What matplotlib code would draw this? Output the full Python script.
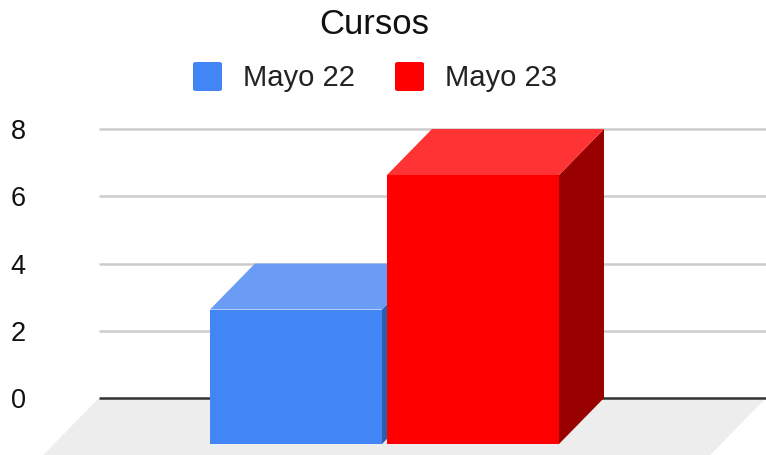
from matplotlib import pyplot as plt
from matplotlib.patches import FancyBboxPatch, Polygon

title = 'Cursos'
series = ['Mayo 22', 'Mayo 23']
values = [4, 8]
yticks = [0, 2, 4, 6, 8]

colors = ['#4285f4', '#ff0000']
top_colors = ['#6a9cf6', '#ff3333']
side_colors = ['#2e5dab', '#990000']

plt.rcParams['font.family'] = ['Liberation Sans', 'DejaVu Sans']

W, H = 766, 455
fig = plt.figure(figsize=(W / 100, H / 100), dpi=100)

# the axes is the back wall of the 3d box: y 0 at pixel 398, y 8 at pixel 129
ax = fig.add_axes([99 / W, 1 - 398 / H, (W - 99) / W, (398 - 129) / H])
px_x = 177.0
px_y = (398 - 129) / 8
ax.set_xlim(-197 / px_x, 470 / px_x)
ax.set_ylim(0, 8)
for s in ax.spines.values():
    s.set_visible(False)
ax.set_xticks([])
ax.set_yticks(yticks)
ax.tick_params(axis='y', length=0, pad=0, labelsize=19.5, labelcolor='#111111')
for lab in ax.get_yticklabels():
    lab.set_horizontalalignment('center')
    lab.set_x(-81 / (W - 99))

# depth of the box in data units
dx = 45 / px_x
dy = 46 / px_y
half = 86 / px_x

x0, x1 = ax.get_xlim()

# floor, runs out past the bottom of the picture
floor_d = 1.5
ax.add_patch(Polygon([(x0, 0), (x1, 0), (x1 - floor_d * dx, -floor_d * dy), (x0 - floor_d * dx, -floor_d * dy)],
                     closed=True, fc='#ededed', ec='none', clip_on=False, zorder=1))

for y in yticks[1:]:
    ax.plot([x0, x1], [y, y], color='#cccccc', lw=1.8, zorder=2, solid_capstyle='butt', clip_on=False)
ax.plot([x0, x1], [0, 0], color='#333333', lw=1.8, zorder=2, solid_capstyle='butt', clip_on=False)

for i, v in enumerate(values):
    l, r = i - half, i + half
    b = -dy
    t = v - dy
    # side
    ax.add_patch(Polygon([(r, b), (r + dx, 0), (r + dx, v), (r, t)], closed=True,
                         fc=side_colors[i], ec='none', clip_on=False, zorder=3 + i))
    # top
    ax.add_patch(Polygon([(l, t), (l + dx, v), (r + dx, v), (r, t)], closed=True,
                         fc=top_colors[i], ec='none', clip_on=False, zorder=3 + i))
    # front
    ax.add_patch(Polygon([(l, b), (r, b), (r, t), (l, t)], closed=True,
                         fc=colors[i], ec='none', clip_on=False, zorder=3 + i))

fig.text(374 / W, 1 - 24 / H, title, ha='center', va='center', fontsize=25, color='#111111')

# legend by hand, the boxes are rounded squares
leg_boxes = [193, 395]
leg_text = [243, 445]
for i, name in enumerate(series):
    fig.add_artist(FancyBboxPatch((leg_boxes[i] / W, 1 - 91 / H), 29 / W, 29 / H,
                                  boxstyle='round,pad=0,rounding_size=0.004',
                                  transform=fig.transFigure, fc=colors[i], ec='none'))
    fig.text(leg_text[i] / W, 1 - 78 / H, name, ha='left', va='center', fontsize=21, color='#222222')

fig.savefig('out.png', dpi=100)
